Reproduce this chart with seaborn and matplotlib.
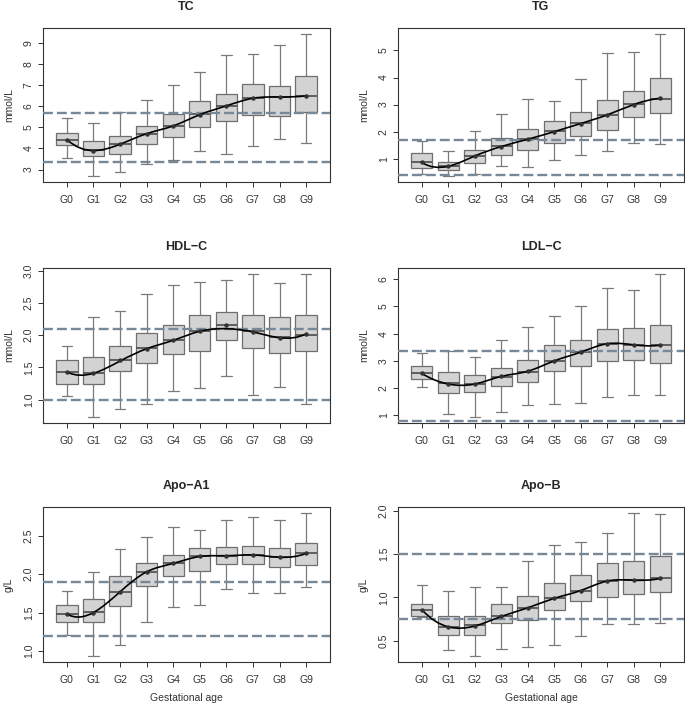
import numpy as np
import pandas as pd
import seaborn as sns
import matplotlib.pyplot as plt
from matplotlib.path import Path
from matplotlib.patches import PathPatch

groups = ["G0", "G1", "G2", "G3", "G4", "G5", "G6", "G7", "G8", "G9"]

# TC (mmol/L)
tc_low = [3.57, 2.68, 2.86, 3.25, 3.44, 3.90, 3.76, 4.12, 4.47, 4.28]
tc_q1 = [4.14, 3.63, 3.76, 4.23, 4.52, 5.02, 5.32, 5.59, 5.55, 5.72]
tc_med = [4.42, 3.92, 4.20, 4.67, 5.05, 5.65, 6.00, 6.39, 6.44, 6.50]
tc_q3 = [4.74, 4.33, 4.61, 5.08, 5.65, 6.25, 6.58, 7.06, 6.98, 7.42]
tc_high = [5.46, 5.21, 5.72, 6.32, 7.01, 7.61, 8.45, 8.50, 8.90, 9.44]
tc_mean = [4.42, 3.90, 4.20, 4.70, 5.07, 5.60, 6.02, 6.38, 6.44, 6.50]
tc_ref = [3.36, 5.69]

# TG (mmol/L)
tg_low = [0.42, 0.35, 0.45, 0.74, 0.69, 0.94, 1.15, 1.30, 1.59, 1.55]
tg_q1 = [0.67, 0.57, 0.83, 1.12, 1.33, 1.58, 1.85, 2.05, 2.54, 2.69]
tg_med = [0.86, 0.72, 1.11, 1.47, 1.74, 2.03, 2.32, 2.62, 3.02, 3.20]
tg_q3 = [1.22, 0.86, 1.34, 1.78, 2.11, 2.39, 2.74, 3.18, 3.51, 3.99]
tg_high = [1.65, 1.28, 2.02, 2.65, 3.20, 3.13, 3.93, 4.90, 4.96, 5.62]
tg_mean = [0.86, 0.72, 1.10, 1.45, 1.72, 2.00, 2.30, 2.62, 3.00, 3.23]
tg_ref = [0.40, 1.70]

# HDL-C (mmol/L)
hdl_low = [1.06, 0.73, 0.86, 0.94, 1.14, 1.19, 1.37, 1.08, 1.20, 0.94]
hdl_q1 = [1.24, 1.24, 1.44, 1.57, 1.71, 1.75, 1.92, 1.80, 1.73, 1.75]
hdl_med = [1.43, 1.42, 1.61, 1.80, 1.93, 2.06, 2.15, 2.06, 1.97, 2.01]
hdl_q3 = [1.61, 1.66, 1.84, 2.03, 2.16, 2.31, 2.36, 2.31, 2.28, 2.31]
hdl_high = [1.83, 2.28, 2.38, 2.63, 2.77, 2.82, 2.85, 2.95, 2.80, 2.95]
hdl_mean = [1.43, 1.42, 1.61, 1.79, 1.92, 2.06, 2.16, 2.05, 1.96, 2.02]
hdl_fit = [1.43, 1.41, 1.60, 1.79, 1.92, 2.06, 2.10, 2.05, 1.96, 2.02]
hdl_ref = [1.0, 2.1]

# LDL-C (mmol/L)
ldl_low = [2.03, 1.05, 0.93, 1.13, 1.37, 1.42, 1.44, 1.66, 1.76, 1.76]
ldl_q1 = [2.34, 1.81, 1.85, 2.08, 2.24, 2.62, 2.81, 3.01, 3.02, 2.94]
ldl_med = [2.54, 2.18, 2.16, 2.42, 2.61, 3.01, 3.32, 3.63, 3.59, 3.59]
ldl_q3 = [2.80, 2.58, 2.47, 2.75, 3.05, 3.59, 3.77, 4.16, 4.22, 4.30]
ldl_high = [3.28, 3.38, 3.13, 3.78, 4.24, 4.65, 5.01, 5.67, 5.60, 6.20]
ldl_mean = [2.54, 2.15, 2.15, 2.43, 2.62, 3.00, 3.32, 3.63, 3.59, 3.58]
ldl_ref = [0.78, 3.37]

# Apo-A1 (g/L)
apoa_low = [1.21, 0.93, 1.08, 1.38, 1.57, 1.60, 1.80, 1.76, 1.75, 1.83]
apoa_q1 = [1.37, 1.37, 1.58, 1.84, 1.97, 2.04, 2.13, 2.13, 2.09, 2.12]
apoa_med = [1.48, 1.51, 1.77, 2.03, 2.14, 2.23, 2.24, 2.25, 2.22, 2.27]
apoa_q3 = [1.60, 1.67, 1.97, 2.15, 2.25, 2.34, 2.36, 2.37, 2.34, 2.40]
apoa_high = [1.78, 2.03, 2.33, 2.49, 2.62, 2.57, 2.71, 2.74, 2.70, 2.80]
apoa_mean = [1.48, 1.50, 1.77, 2.03, 2.14, 2.23, 2.24, 2.25, 2.22, 2.27]
apoa_ref = [1.2, 1.9]

# Apo-B (g/L)
apob_low = [0.77, 0.39, 0.32, 0.40, 0.43, 0.45, 0.56, 0.69, 0.69, 0.71]
apob_q1 = [0.79, 0.57, 0.57, 0.70, 0.74, 0.86, 0.96, 1.01, 1.04, 1.06]
apob_med = [0.86, 0.66, 0.68, 0.78, 0.88, 0.99, 1.08, 1.19, 1.20, 1.22]
apob_q3 = [0.93, 0.78, 0.79, 0.92, 1.02, 1.17, 1.26, 1.40, 1.42, 1.48]
apob_high = [1.14, 1.07, 1.12, 1.12, 1.42, 1.61, 1.64, 1.75, 1.98, 1.97]
apob_mean = [0.86, 0.66, 0.67, 0.78, 0.88, 0.99, 1.08, 1.19, 1.20, 1.22]
apob_ref = [0.75, 1.5]

panels = [
    ("TC", "mmol/L", [tc_low, tc_q1, tc_med, tc_q3, tc_high], tc_mean, tc_mean, tc_ref, [3, 4, 5, 6, 7, 8, 9], "%d"),
    ("TG", "mmol/L", [tg_low, tg_q1, tg_med, tg_q3, tg_high], tg_mean, tg_mean, tg_ref, [1, 2, 3, 4, 5], "%d"),
    ("HDL\u2212C", "mmol/L", [hdl_low, hdl_q1, hdl_med, hdl_q3, hdl_high], hdl_mean, hdl_fit, hdl_ref,
     [1.0, 1.5, 2.0, 2.5, 3.0], "%.1f"),
    ("LDL\u2212C", "mmol/L", [ldl_low, ldl_q1, ldl_med, ldl_q3, ldl_high], ldl_mean, ldl_mean, ldl_ref,
     [1, 2, 3, 4, 5, 6], "%d"),
    ("Apo\u2212A1", "g/L", [apoa_low, apoa_q1, apoa_med, apoa_q3, apoa_high], apoa_mean, apoa_mean, apoa_ref,
     [1.0, 1.5, 2.0, 2.5], "%.1f"),
    ("Apo\u2212B", "g/L", [apob_low, apob_q1, apob_med, apob_q3, apob_high], apob_mean, apob_mean, apob_ref,
     [0.5, 1.0, 1.5, 2.0], "%.1f"),
]


def spline_path(ys):
    # cubic interpolating spline (fmm ends, like R's spline()) as bezier segments
    y = np.asarray(ys, float)
    n = len(y) - 1
    A = np.zeros((n + 1, n + 1))
    b = np.zeros(n + 1)
    A[0, 0], A[0, 1] = -1, 1
    b[0] = y[3] - 3 * y[2] + 3 * y[1] - y[0]
    for i in range(1, n):
        A[i, i - 1:i + 2] = [1, 4, 1]
        b[i] = 6 * (y[i + 1] - 2 * y[i] + y[i - 1])
    A[n, n - 1], A[n, n] = -1, 1
    b[n] = y[n] - 3 * y[n - 1] + 3 * y[n - 2] - y[n - 3]
    M = np.linalg.solve(A, b)
    verts = [(0, y[0])]
    codes = [Path.MOVETO]
    for i in range(n):
        dy = y[i + 1] - y[i]
        d0 = dy - (2 * M[i] + M[i + 1]) / 6
        d1 = dy + (M[i] + 2 * M[i + 1]) / 6
        verts += [(i + 1 / 3, y[i] + d0 / 3), (i + 2 / 3, y[i + 1] - d1 / 3), (i + 1, y[i + 1])]
        codes += [Path.CURVE4] * 3
    return Path(verts, codes)


sns.set_style("ticks")
plt.rcParams["font.family"] = ["Liberation Sans", "DejaVu Sans"]

fig = plt.figure(figsize=(6.85, 7.07), dpi=100)
W, H = 685, 707
cols = [(43, 330), (398, 684)]
rows = [(28, 182), (268, 423), (507, 662)]

for k, (title, unit, five, mean, fit, ref, yticks, fmt) in enumerate(panels):
    (x0, x1), (y0, y1) = cols[k % 2], rows[k // 2]
    ax = fig.add_axes([x0 / W, 1 - y1 / H, (x1 - x0) / W, (y1 - y0) / H])

    df = pd.DataFrame({
        "group": np.repeat(groups, 5),
        "value": np.array(five).T.ravel(),
    })
    sns.boxplot(data=df, x="group", y="value", order=groups, ax=ax,
                color="#d3d3d3", saturation=1, width=0.8, whis=(0, 100),
                showfliers=False, linecolor="#6e6e6e", linewidth=0.9,
                medianprops=dict(color="#555555", linewidth=1.3),
                whiskerprops=dict(color="#7a7a7a"),
                capprops=dict(color="#7a7a7a"))

    for r in ref:
        ax.axhline(r, color="#778899", lw=1.7, ls=(0, (4.2, 1.7)), zorder=3)

    ax.add_patch(PathPatch(spline_path(fit), facecolor="none", edgecolor="black", lw=1.2, zorder=4))
    ax.plot(range(len(groups)), mean, "o", color="#333333", ms=2.2, zorder=5)

    lo, hi = min(five[0]), max(five[4])
    pad = 0.04 * (hi - lo)
    ax.set_ylim(lo - pad, hi + pad)
    ax.set_xlim(-0.9, 9.9)
    ax.set_yticks(yticks)
    ax.set_yticklabels([fmt % t for t in yticks], rotation=90, va="center")

    for s in ax.spines.values():
        s.set_visible(True)
        s.set_color("#333333")
        s.set_linewidth(0.8)
    ax.tick_params(colors="#333333", labelsize=7.5, length=3.6, width=0.7, pad=5.5)
    ax.tick_params(axis="y", pad=3)

    ax.set_title(title, fontsize=9, fontweight="bold", pad=13)
    ax.set_ylabel(unit, fontsize=7.5, color="#333333", labelpad=7)
    if k >= 4:
        ax.set_xlabel("Gestational age", fontsize=7.5, color="#333333", labelpad=6)
    else:
        ax.set_xlabel("")

plt.savefig("out.png", dpi=100)
